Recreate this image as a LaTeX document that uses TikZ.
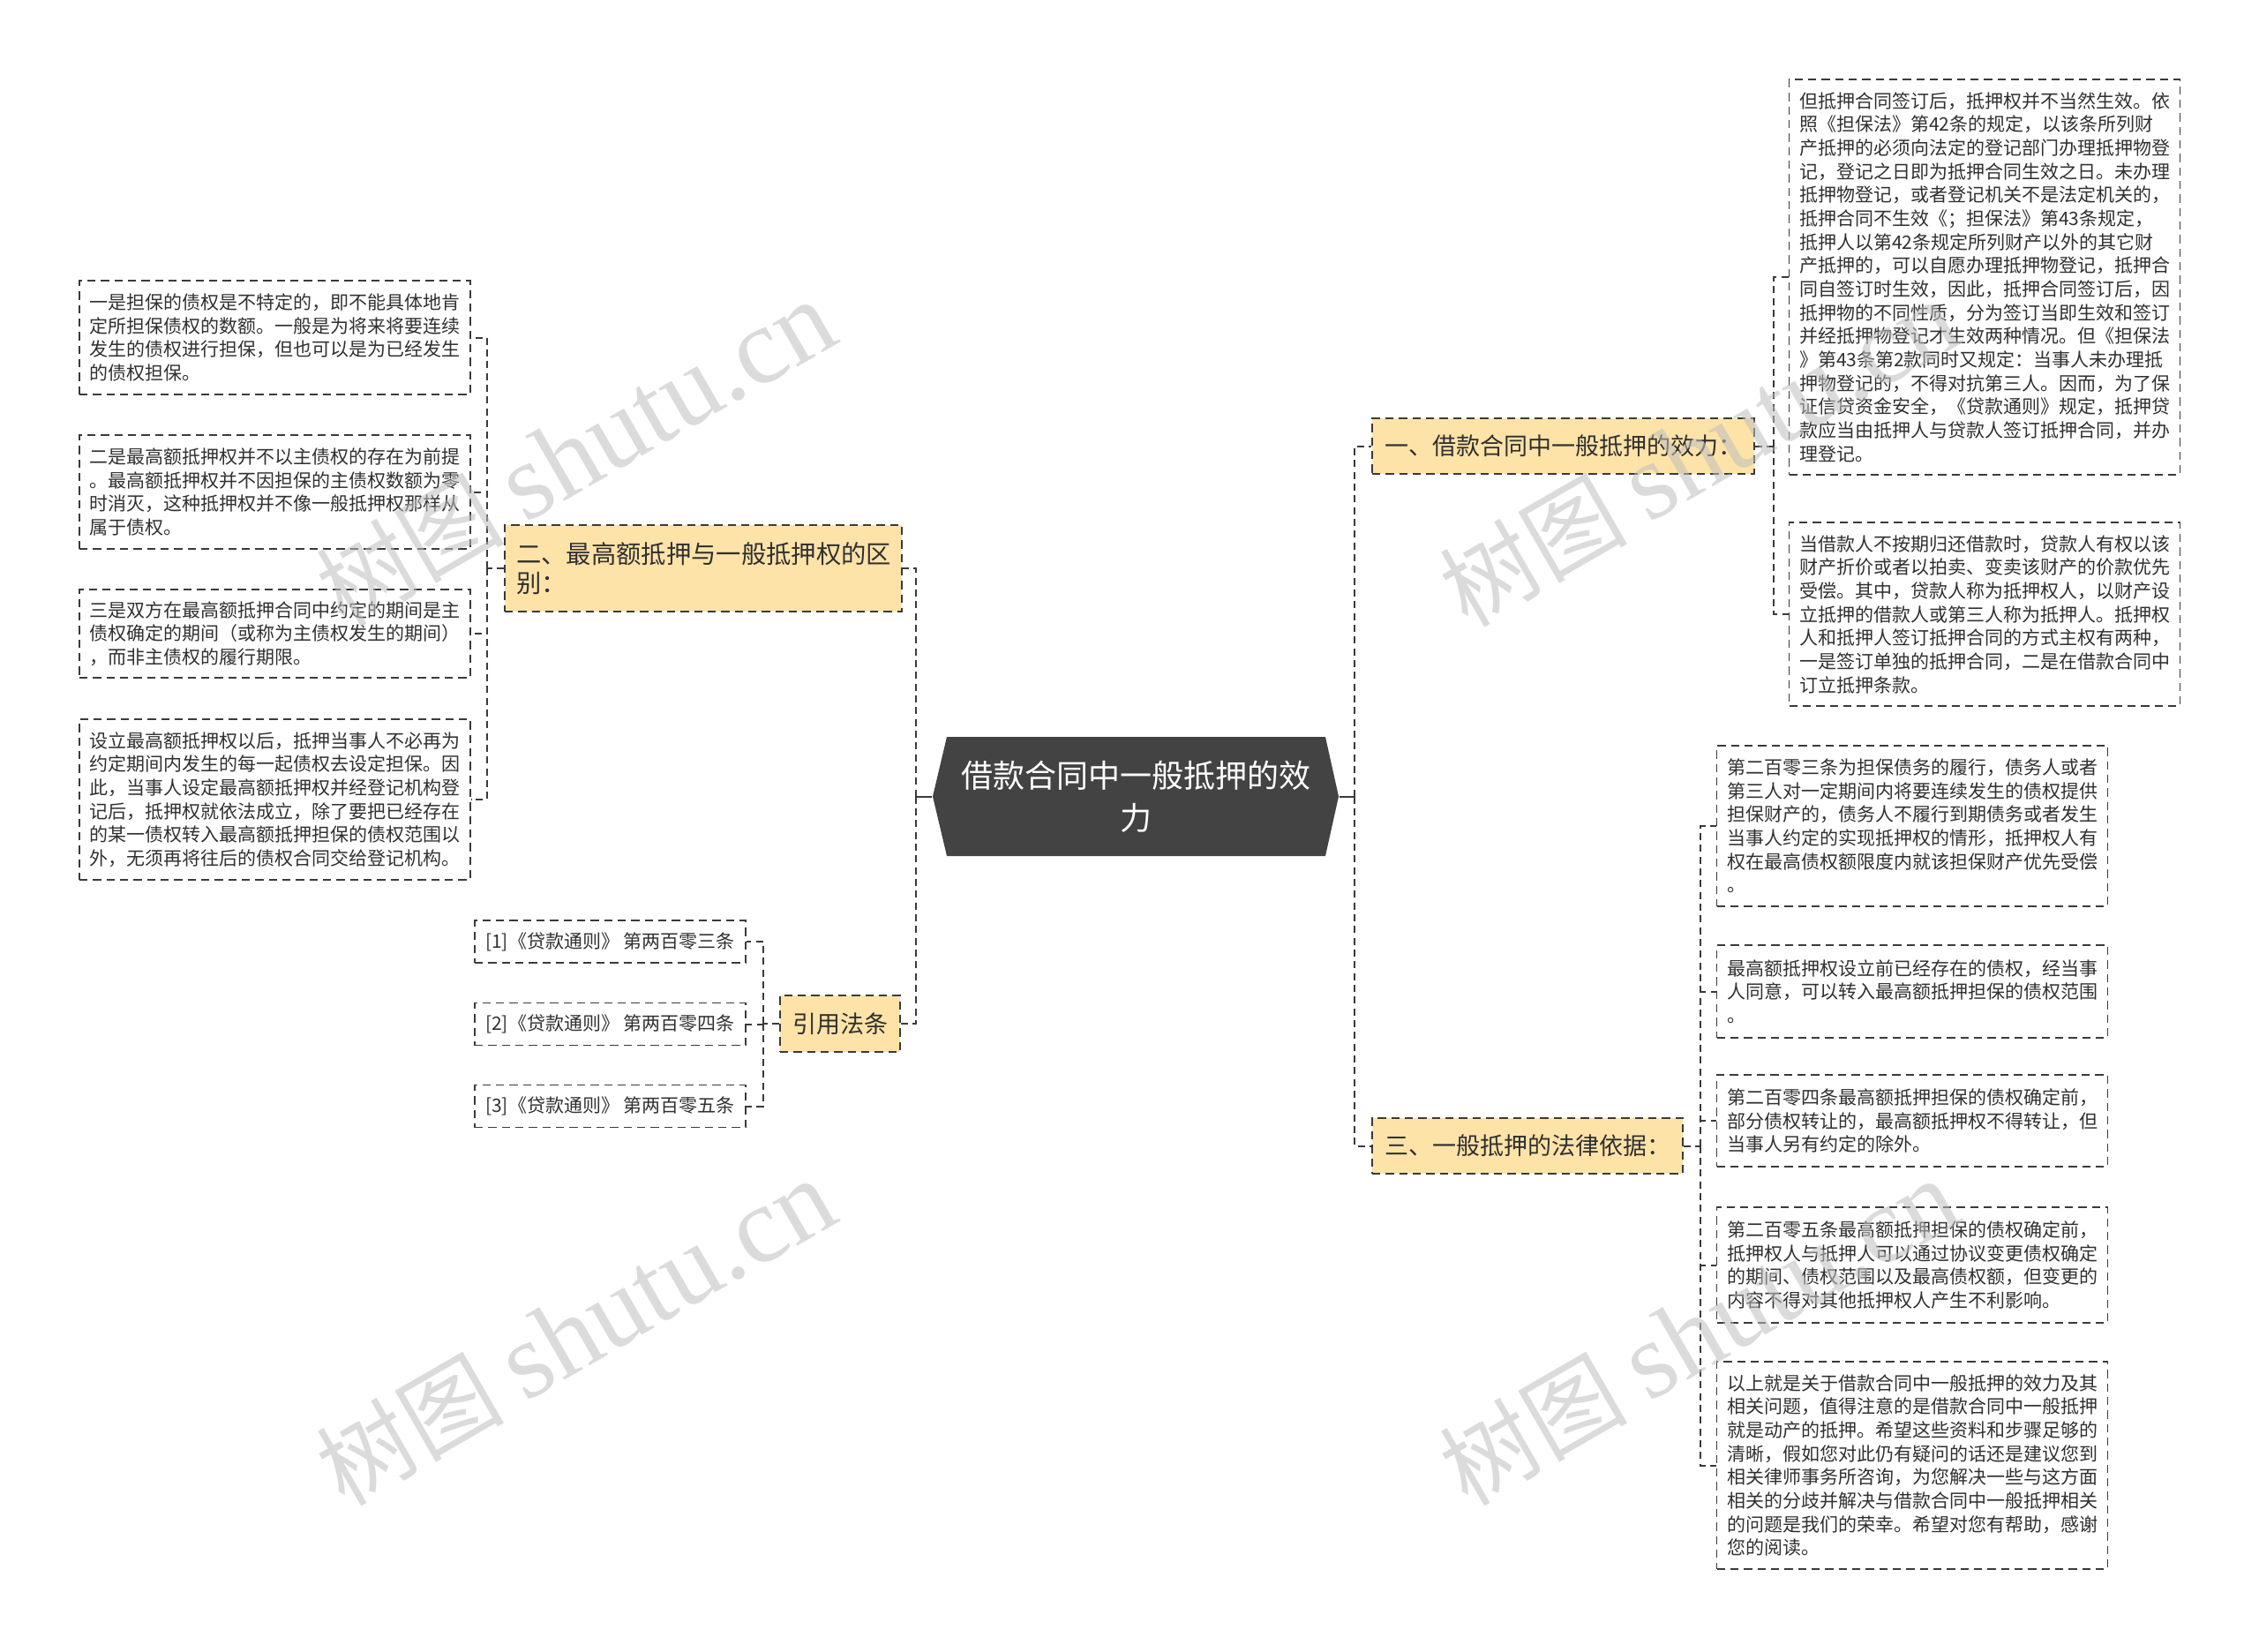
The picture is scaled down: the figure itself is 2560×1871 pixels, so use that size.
\documentclass[tikz,border=0pt]{standalone}
\usepackage{fontspec}
\setmainfont{Noto Sans CJK SC}
\newfontfamily\wmlatin{Liberation Serif}
\definecolor{linec}{HTML}{3A3A3A}
\definecolor{lvone}{HTML}{FDE3A8}
\definecolor{rootc}{HTML}{434343}
\definecolor{txt}{HTML}{303030}
\tikzset{
 conn/.style={draw=linec, line width=0.6pt, dash pattern=on 2.4pt off 1.6pt},
 stub/.style={draw=linec, line width=0.6pt},
 boxline/.style={draw=linec, line width=0.5pt, dash pattern=on 2.8pt off 1.8pt},
 leaf/.style={boxline, fill=white, text=txt, text width=126pt, align=left, inner xsep=3.45pt, inner ysep=0pt, font=\fontsize{6.3pt}{8pt}\selectfont},
 cite/.style={boxline, fill=white, text=txt, inner sep=0pt, minimum width=92.1pt, minimum height=14.4pt, font=\fontsize{6.3pt}{8pt}\selectfont},
 lvl/.style={boxline, fill=lvone, text=txt, inner sep=0pt, font=\fontsize{8.1pt}{9.9pt}\selectfont},
 root/.style={inner sep=0pt, minimum width=138pt, minimum height=40.5pt, text=white, align=center, font=\fontsize{10.8pt}{14.4pt}\selectfont},
 wm/.style={text=black!25, opacity=0.55, rotate=30, inner sep=0pt}
}
\newcommand{\wmtext}{\fontsize{32pt}{32pt}\selectfont 树图 {\wmlatin\fontsize{37pt}{37pt}\selectfont shutu.cn}}
\begin{document}
\begin{tikzpicture}[x=0.3pt,y=-0.3pt]
\useasboundingbox (0,0) rectangle (2560,1871);
\fill[white] (0,0) rectangle (2560,1871);

% root
\fill[rootc] (1057,902.5) -- (1073,835) -- (1502,835) -- (1517,902.5) -- (1502,970) -- (1073,970) -- cycle;
\node[root] (c) at (1287,902.5) {借款合同中一般抵押的效\\力};

% level one
\node[lvl, minimum width=135pt, minimum height=29.4pt, text width=127.2pt, align=left, font=\fontsize{8.5pt}{9.9pt}\selectfont] (n2) at (797,644) {二、最高额抵押与一般抵押权的区\\别：};
\node[lvl, minimum width=40.8pt, minimum height=19.2pt] (n4) at (952,1160) {引用法条};
\node[lvl, minimum width=129.9pt, minimum height=18.9pt] (n1) at (1771.5,505.5) {一、借款合同中一般抵押的效力：};
\node[lvl, minimum width=105.6pt, minimum height=18.9pt] (n3) at (1731,1298.5) {三、一般抵押的法律依据：};

% left leaves
\node[leaf, minimum height=38.7pt] (a1) at (311.5,382.5) {一是担保的债权是不特定的，即不能具体地肯\\定所担保债权的数额。一般是为将来将要连续\\发生的债权进行担保，但也可以是为已经发生\\的债权担保。};
\node[leaf, minimum height=38.7pt] (a2) at (311.5,557.5) {二是最高额抵押权并不以主债权的存在为前提\\。最高额抵押权并不因担保的主债权数额为零\\时消灭，这种抵押权并不像一般抵押权那样从\\属于债权。};
\node[leaf, minimum height=30pt] (a3) at (311.5,718) {三是双方在最高额抵押合同中约定的期间是主\\债权确定的期间（或称为主债权发生的期间）\\，而非主债权的履行期限。};
\node[leaf, minimum height=54.6pt] (a4) at (311.5,906) {设立最高额抵押权以后，抵押当事人不必再为\\约定期间内发生的每一起债权去设定担保。因\\此，当事人设定最高额抵押权并经登记机构登\\记后，抵押权就依法成立，除了要把已经存在\\的某一债权转入最高额抵押担保的债权范围以\\外，无须再将往后的债权合同交给登记机构。};

% citations
\node[cite] (b1) at (691.5,1067) {[1]《贷款通则》 第两百零三条};
\node[cite] (b2) at (691.5,1160.5) {[2]《贷款通则》 第两百零四条};
\node[cite] (b3) at (691.5,1253.5) {[3]《贷款通则》 第两百零五条};

% right leaves of n1
\node[leaf, minimum height=134.4pt] (r1) at (2249,314) {但抵押合同签订后，抵押权并不当然生效。依\\照《担保法》第42条的规定，以该条所列财\\产抵押的必须向法定的登记部门办理抵押物登\\记，登记之日即为抵押合同生效之日。未办理\\抵押物登记，或者登记机关不是法定机关的，\\抵押合同不生效《；担保法》第43条规定，\\抵押人以第42条规定所列财产以外的其它财\\产抵押的，可以自愿办理抵押物登记，抵押合\\同自签订时生效，因此，抵押合同签订后，因\\抵押物的不同性质，分为签订当即生效和签订\\并经抵押物登记才生效两种情况。但《担保法\\》第43条第2款同时又规定：当事人未办理抵\\押物登记的，不得对抗第三人。因而，为了保\\证信贷资金安全，《贷款通则》规定，抵押贷\\款应当由抵押人与贷款人签订抵押合同，并办\\理登记。};
\node[leaf, minimum height=62.4pt] (r2) at (2249,696) {当借款人不按期归还借款时，贷款人有权以该\\财产折价或者以拍卖、变卖该财产的价款优先\\受偿。其中，贷款人称为抵押权人，以财产设\\立抵押的借款人或第三人称为抵押人。抵押权\\人和抵押人签订抵押合同的方式主权有两种，\\一是签订单独的抵押合同，二是在借款合同中\\订立抵押条款。};

% right leaves of n3
\node[leaf, minimum height=54.6pt] (s1) at (2167,936) {第二百零三条为担保债务的履行，债务人或者\\第三人对一定期间内将要连续发生的债权提供\\担保财产的，债务人不履行到期债务或者发生\\当事人约定的实现抵押权的情形，抵押权人有\\权在最高债权额限度内就该担保财产优先受偿\\。};
\node[leaf, minimum height=31.5pt] (s2) at (2167,1123.5) {最高额抵押权设立前已经存在的债权，经当事\\人同意，可以转入最高额抵押担保的债权范围\\。};
\node[leaf, minimum height=31.2pt] (s3) at (2167,1270) {第二百零四条最高额抵押担保的债权确定前，\\部分债权转让的，最高额抵押权不得转让，但\\当事人另有约定的除外。};
\node[leaf, minimum height=39.3pt] (s4) at (2167,1433.5) {第二百零五条最高额抵押担保的债权确定前，\\抵押权人与抵押人可以通过协议变更债权确定\\的期间、债权范围以及最高债权额，但变更的\\内容不得对其他抵押权人产生不利影响。};
\node[leaf, minimum height=70.5pt] (s5) at (2167,1660.5) {以上就是关于借款合同中一般抵押的效力及其\\相关问题，值得注意的是借款合同中一般抵押\\就是动产的抵押。希望这些资料和步骤足够的\\清晰，假如您对此仍有疑问的话还是建议您到\\相关律师事务所咨询，为您解决一些与这方面\\相关的分歧并解决与借款合同中一般抵押相关\\的问题是我们的荣幸。希望对您有帮助，感谢\\您的阅读。};

% trunk coordinates
\coordinate (tL) at (1038,902.5);
\coordinate (tR) at (1535,902.5);
\coordinate (t2) at (552,644);
\coordinate (t4) at (865,1160);
\coordinate (t1) at (2010,505.5);
\coordinate (t3) at (1927,1298.5);

% connectors
\draw[stub] (c.west) -- (tL);
\draw[stub] (c.east) -- (tR);
\draw[conn] (tL) |- (n2.east);
\draw[conn] (tL) |- (n4.east);
\draw[conn] (tR) |- (n1.west);
\draw[conn] (tR) |- (n3.west);

\draw[conn] (n2.west) -- (t2);
\draw[conn] (t2) |- (a1.east);
\draw[conn] (t2) |- (a2.east);
\draw[conn] (t2) |- (a3.east);
\draw[conn] (t2) |- (a4.east);

\draw[conn] (n4.west) -- (t4);
\draw[conn] (t4) |- (b1.east);
\draw[conn] (t4) |- (b2.east);
\draw[conn] (t4) |- (b3.east);

\draw[conn] (n1.east) -- (t1);
\draw[conn] (t1) |- (r1.west);
\draw[conn] (t1) |- (r2.west);

\draw[conn] (n3.east) -- (t3);
\draw[conn] (t3) |- (s1.west);
\draw[conn] (t3) |- (s2.west);
\draw[conn] (t3) |- (s3.west);
\draw[conn] (t3) |- (s4.west);
\draw[conn] (t3) |- (s5.west);

% watermarks
\node[wm] (w1) at (652,514) {\wmtext};
\node[wm] (w2) at (652,1510) {\wmtext};
\node[wm] (w3) at (1925,514) {\wmtext};
\node[wm] (w4) at (1925,1510) {\wmtext};
\end{tikzpicture}
\end{document}
